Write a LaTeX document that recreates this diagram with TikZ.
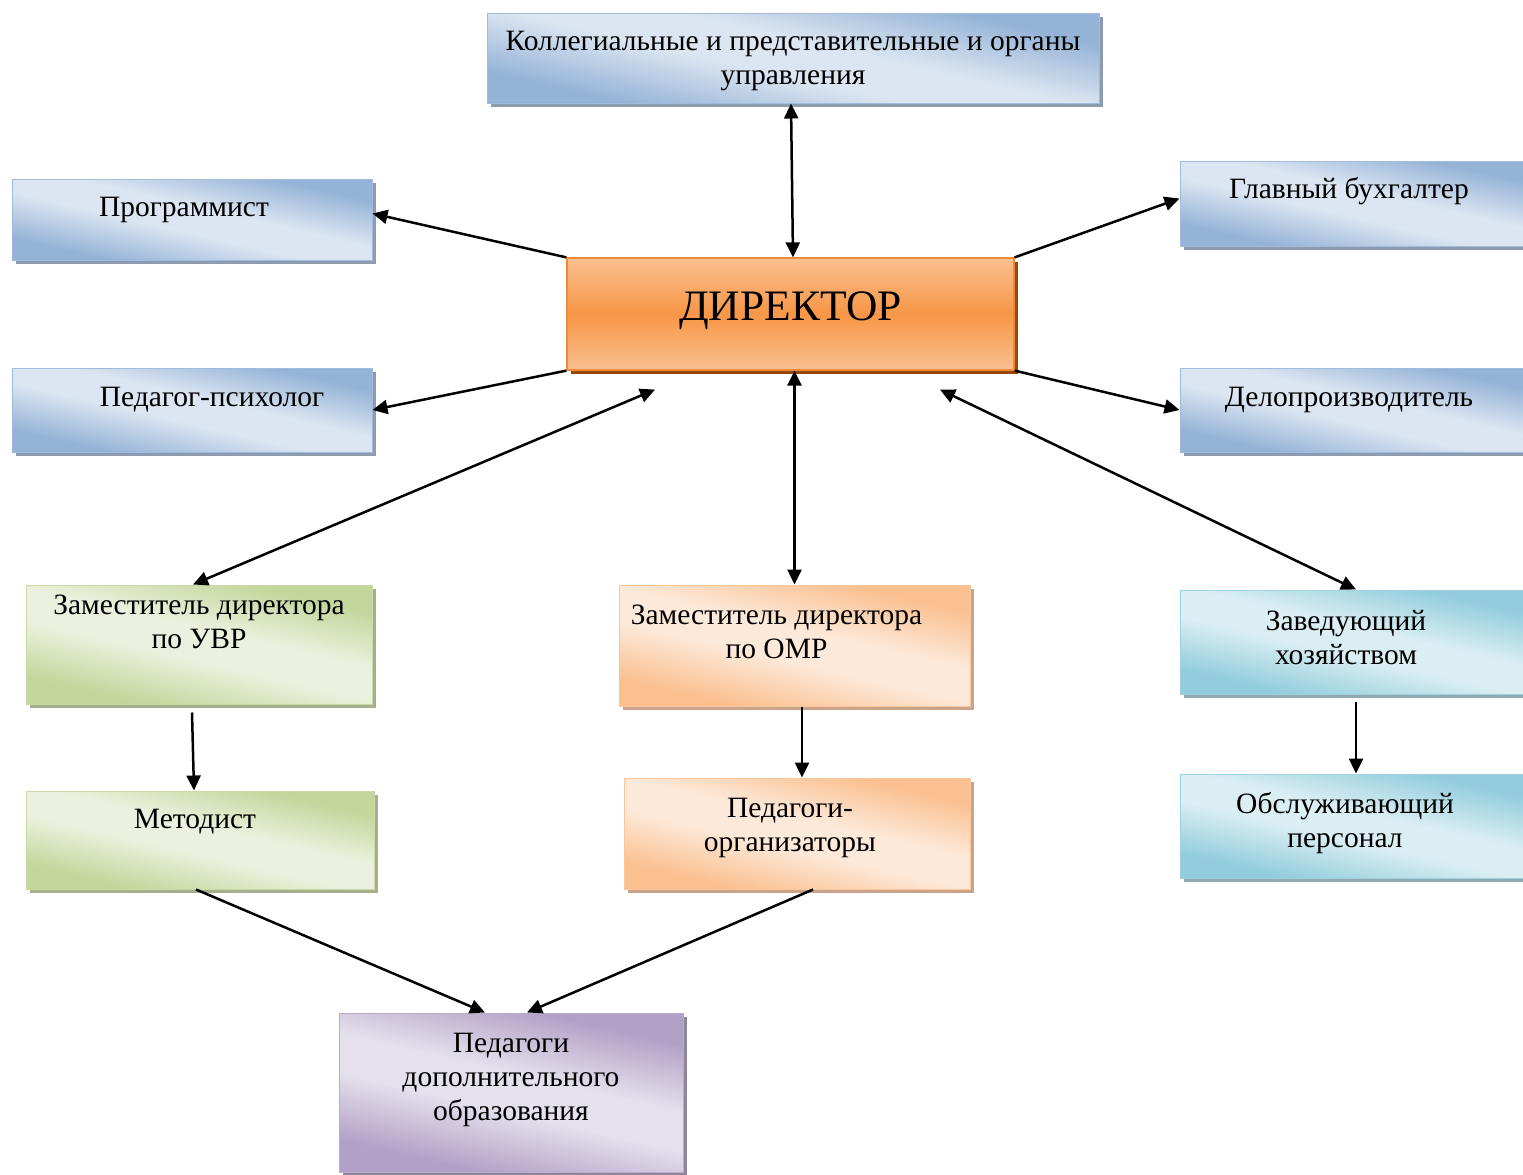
\documentclass[tikz,border=0pt]{standalone}
\usepackage{fontspec}
\setmainfont{Liberation Serif}
\usepackage{tikz}
\usetikzlibrary{positioning,arrows.meta,shadows}
\definecolor{blueDk}{HTML}{95B3D7}
\definecolor{blueLt}{HTML}{DCE6F2}
\definecolor{blueSh}{HTML}{8C9BB0}
\definecolor{greenDk}{HTML}{C3D69B}
\definecolor{greenLt}{HTML}{EBF1DE}
\definecolor{greenSh}{HTML}{A6AE8E}
\definecolor{peachDk}{HTML}{FAC090}
\definecolor{peachLt}{HTML}{FDE9D9}
\definecolor{peachSh}{HTML}{C9A48A}
\definecolor{tealDk}{HTML}{93CDDD}
\definecolor{tealLt}{HTML}{DAEEF3}
\definecolor{tealSh}{HTML}{8FA9B2}
\definecolor{violetDk}{HTML}{B2A1C7}
\definecolor{violetLt}{HTML}{E5E0EC}
\definecolor{violetSh}{HTML}{8F8799}
\definecolor{dirDk}{HTML}{F79646}
\definecolor{dirLt}{HTML}{FAC090}
\definecolor{dirBd}{HTML}{EE8A3C}
\definecolor{dirSh}{HTML}{984807}
% diagonal fills: dark corners, light band
\pgfdeclareverticalshading{blueShade}{100bp}{color(0bp)=(blueDk); color(28bp)=(blueDk); color(45bp)=(blueLt); color(55bp)=(blueLt); color(72bp)=(blueDk); color(100bp)=(blueDk)}
\pgfdeclareverticalshading{greenShade}{100bp}{color(0bp)=(greenDk); color(28bp)=(greenDk); color(45bp)=(greenLt); color(55bp)=(greenLt); color(72bp)=(greenDk); color(100bp)=(greenDk)}
\pgfdeclareverticalshading{peachShade}{100bp}{color(0bp)=(peachDk); color(28bp)=(peachDk); color(45bp)=(peachLt); color(55bp)=(peachLt); color(72bp)=(peachDk); color(100bp)=(peachDk)}
\pgfdeclareverticalshading{tealShade}{100bp}{color(0bp)=(tealDk); color(28bp)=(tealDk); color(45bp)=(tealLt); color(55bp)=(tealLt); color(72bp)=(tealDk); color(100bp)=(tealDk)}
\pgfdeclareverticalshading{violetShade}{100bp}{color(0bp)=(violetDk); color(28bp)=(violetDk); color(45bp)=(violetLt); color(55bp)=(violetLt); color(72bp)=(violetDk); color(100bp)=(violetDk)}
\tikzset{
    box/.style={
        rectangle,
        draw=#1Dk!90!white,
        line width=1pt,
        shading=#1Shade,
        shading angle=-13,
        drop shadow={shadow xshift=4pt, shadow yshift=-4pt, opacity=1, fill=#1Sh}
    },
    dirbox/.style={
        rectangle,
        draw=dirBd,
        line width=1.2pt,
        top color=dirLt, bottom color=dirLt, middle color=dirDk,
        drop shadow={shadow xshift=4pt, shadow yshift=-4pt, opacity=1, fill=dirSh}
    },
    txt/.style={
        anchor=north,
        align=center,
        inner sep=0pt,
        font=\fontsize{29.5}{34}\selectfont,
        execute at begin node=\strut
    },
    arrow/.style={-{Triangle[length=15pt,width=14pt]}, line width=2.5pt},
    twoway/.style={{Triangle[length=15pt,width=14pt]}-{Triangle[length=15pt,width=14pt]}, line width=2.5pt}
}

\begin{document}
\begin{tikzpicture}[x=1pt,y=-1pt]
    \clip (0,0) rectangle (1523,1175);

    % boxes
    \node[box=blue, minimum width=612pt, minimum height=90pt,
          label={[txt, name=kolT, yshift=-18pt]north:Коллегиальные и представительные и органы\\управления}] (kol) at (793,58) {};
    \node[dirbox, minimum width=447pt, minimum height=112pt,
          label={[txt, name=dirT, font=\fontsize{43.5}{48}\selectfont, yshift=-29pt]north:ДИРЕКТОР}] (dir) at (790.5,314) {};
    \node[box=blue, minimum width=360pt, minimum height=81pt,
          label={[txt, name=progT, xshift=-8pt, yshift=-14pt]north:Программист}] (prog) at (192,219.5) {};
    \node[box=blue, minimum width=360pt, minimum height=84pt,
          label={[txt, name=psihT, xshift=20pt, yshift=-15pt]north:Педагог-психолог}] (psih) at (192,410) {};
    \node[box=blue, minimum width=352pt, minimum height=85pt,
          label={[txt, name=buhT, xshift=-7pt, yshift=-14pt]north:Главный бухгалтер}] (buh) at (1356,203.5) {};
    \node[box=blue, minimum width=352pt, minimum height=84pt,
          label={[txt, name=deloT, xshift=-7pt, yshift=-15pt]north:Делопроизводитель}] (delo) at (1356,410) {};

    \node[box=green, minimum width=346pt, minimum height=119pt,
          label={[txt, name=uvrT, yshift=-10pt]north:Заместитель директора\\по УВР}] (uvr) at (199,644.5) {};
    \node[box=peach, minimum width=351pt, minimum height=121pt,
          label={[txt, name=omrT, xshift=-18pt, yshift=-20pt]north:Заместитель директора\\по ОМР}] (omr) at (794.5,645.5) {};
    \node[box=teal, minimum width=352pt, minimum height=104pt,
          label={[txt, name=zavT, xshift=-10pt, yshift=-21pt]north:Заведующий\\хозяйством}] (zav) at (1356,642) {};

    \node[box=green, minimum width=348pt, minimum height=98pt,
          label={[txt, name=metT, xshift=-5pt, yshift=-14pt]north:Методист}] (met) at (200,840) {};
    \node[box=peach, minimum width=346pt, minimum height=111pt,
          label={[txt, name=orgT, xshift=-7pt, yshift=-20pt]north:Педагоги-\\организаторы}] (org) at (797,833.5) {};
    \node[box=teal, minimum width=352pt, minimum height=104pt,
          label={[txt, name=obslT, xshift=-11pt, yshift=-19pt]north:Обслуживающий\\персонал}] (obsl) at (1356,826) {};

    \node[box=violet, minimum width=344pt, minimum height=159pt,
          label={[txt, name=pdT, yshift=-20pt]north:Педагоги\\дополнительного\\образования}] (pd) at (511,1092.5) {};

    % connectors
    \draw[twoway] ([xshift=-2pt]kol.south) -- ([xshift=2.5pt]dir.north);
    \draw[arrow] (dir.north west) -- ([yshift=6pt]prog.east);
    \draw[arrow] (dir.south west) -- (psih.east);
    \draw[arrow] (dir.north east) -- ([yshift=5pt]buh.west);
    \draw[arrow] (dir.south east) -- (delo.west);
    \draw[twoway] ([xshift=-135.5pt,yshift=-19pt]dir.south) -- ([xshift=-6pt]uvr.north);
    \draw[twoway] (omr.north |- dir.south) -- (omr.north);
    \draw[twoway] ([xshift=149.5pt,yshift=-19pt]dir.south) -- (zav.north);
    \draw[arrow] ([xshift=-7pt,yshift=-8pt]uvr.south) -- ([xshift=-6pt]met.north);
    \draw[arrow] ([xshift=7.5pt]omr.south) -- ([xshift=5pt]org.north);
    \draw[arrow] ([yshift=-7pt]zav.south) -- (obsl.north);
    \draw[arrow] ([xshift=-4pt]met.south) -- ([xshift=-26pt]pd.north);
    \draw[arrow] ([xshift=16pt]org.south) -- ([xshift=16pt]pd.north);
\end{tikzpicture}
\end{document}
